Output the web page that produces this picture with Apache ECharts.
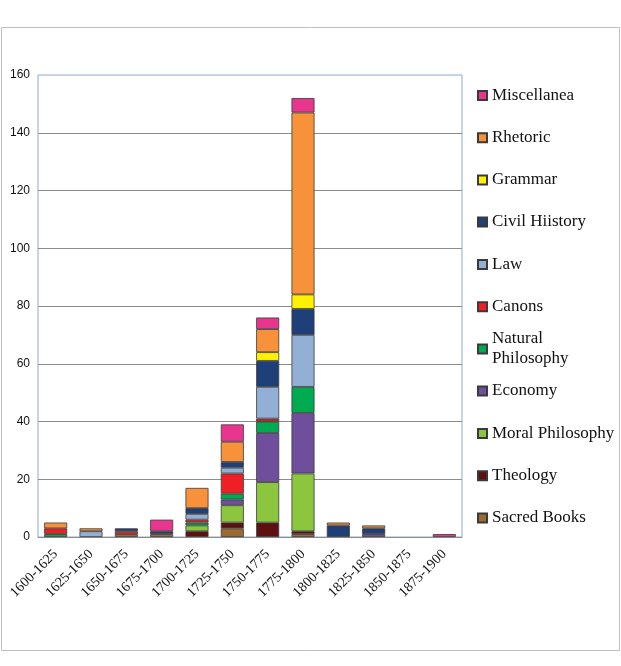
<!DOCTYPE html>
<html>
<head>
<meta charset="utf-8">
<script src="https://cdn.jsdelivr.net/npm/echarts@6/dist/echarts.min.js"></script>
<style>html,body{margin:0;padding:0;background:#fff}#c{width:621px;height:666px}</style>
</head>
<body>
<div id="c"></div>
<script>
const categories = ['1600-1625','1625-1650','1650-1675','1675-1700','1700-1725','1725-1750','1750-1775','1775-1800','1800-1825','1825-1850','1850-1875','1875-1900'];
const sacredBooks       = [0,0,1,1,0,3,0,1,0,0,0,0];
const theology          = [0,0,0,0,2,2,5,1,0,0,0,0];
const moralPhilosophy   = [0,0,0,0,2,6,14,20,0,0,0,0];
const economy           = [0,0,0,0,0,2,17,21,0,1,0,0];
const naturalPhilosophy = [1,0,0,0,1,2,4,9,0,0,0,0];
const canons            = [2,0,1,0,1,7,1,0,0,0,0,0];
const law               = [0,2,0,0,2,2,11,18,0,0,0,0];
const civilHistory      = [0,0,1,1,2,2,9,9,4,2,0,0];
const grammar           = [0,0,0,0,0,0,3,5,0,0,0,0];
const rhetoric          = [2,1,0,0,7,7,8,63,1,1,0,0];
const miscellanea       = [0,0,0,4,0,6,4,5,0,0,0,1];
const yTicks = [0,20,40,60,80,100,120,140,160];

const seriesDefs = [
  ['Sacred Books', sacredBooks, '#9C6A2E'],
  ['Theology', theology, '#5E1010'],
  ['Moral Philosophy', moralPhilosophy, '#8CC63F'],
  ['Economy', economy, '#6F4E9C'],
  ['Natural Philosophy', naturalPhilosophy, '#00AA50'],
  ['Canons', canons, '#EE2024'],
  ['Law', law, '#94AFD6'],
  ['Civil Hiistory', civilHistory, '#1F3F78'],
  ['Grammar', grammar, '#FFF200'],
  ['Rhetoric', rhetoric, '#F7923A'],
  ['Miscellanea', miscellanea, '#E8368F']
];

const series = seriesDefs.map(([name, arr, color]) => ({
  name, type: 'bar', stack: 'all', barWidth: 23,
  itemStyle: { color, borderColor: '#3a3a3a', borderWidth: 0.8 },
  data: arr.map(v => v === 0 ? null : v)
}));

// legend centers (y) top to bottom
const legendOrder = ['Miscellanea','Rhetoric','Grammar','Civil Hiistory','Law','Canons','Natural Philosophy','Economy','Moral Philosophy','Theology','Sacred Books'];
const legendCenters = [95.5,137.7,180,222,264.5,306.7,349,391,433.5,475.7,518];
const legends = legendOrder.map((name, i) => {
  const np = name === 'Natural Philosophy';
  return {
    data: [name], orient: 'vertical', left: 477,
    top: np ? legendCenters[i] - 30 : legendCenters[i] - 9,
    padding: 0, itemWidth: 9, itemHeight: 9, icon: 'rect', selectedMode: false,
    formatter: np ? 'Natural\nPhilosophy' : '{name}',
    textStyle: np
      ? { fontFamily: 'Liberation Serif', fontSize: 17, color: '#111', lineHeight: 20, padding: [20,0,0,0] }
      : { fontFamily: 'Liberation Serif', fontSize: 17, color: '#111', lineHeight: 18 }
  };
});

const chart = echarts.init(document.getElementById('c'), null, { renderer: 'canvas' });
chart.setOption({
  animation: false,
  backgroundColor: '#fff',
  graphic: [{
    type: 'rect', shape: { x: 1.5, y: 27.5, width: 618, height: 623 },
    style: { fill: 'none', stroke: '#BFBFBF', lineWidth: 1 }, z: -10
  }],
  legend: legends,
  grid: { left: 38, top: 75, width: 424, height: 462, show: true, borderColor: '#8EAAD6', borderWidth: 1, backgroundColor: 'transparent' },
  xAxis: {
    type: 'category', data: categories,
    axisLine: { lineStyle: { color: '#8C8C8C', width: 1 } },
    axisTick: { show: false },
    axisLabel: { interval: 0, rotate: 45, margin: 15, fontFamily: 'Liberation Serif', fontSize: 14, color: '#111' }
  },
  yAxis: {
    type: 'value', min: yTicks[0], max: yTicks[yTicks.length-1], interval: 20,
    axisLine: { show: false }, axisTick: { show: false },
    axisLabel: { margin: 8, fontFamily: 'Liberation Sans', fontSize: 12, color: '#111' },
    splitLine: { show: true, showMinLine: false, showMaxLine: false, lineStyle: { color: '#8C8C8C', width: 1 } }
  },
  series
});
</script>
</body>
</html>
